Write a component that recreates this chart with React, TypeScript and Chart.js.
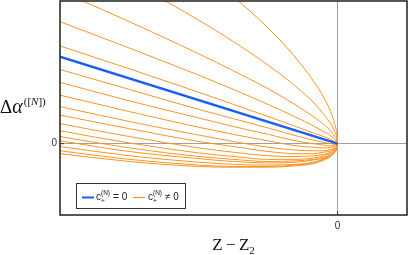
import React, { useEffect, useRef } from 'react';
import { Chart, registerables } from 'chart.js';
Chart.register(...registerables);

// x positions (Z - Z2) shared by all orange curves
const xs = [-4, -3, -2, -1.5, -1, -0.6, -0.35, -0.2, -0.1, -0.04, -0.01, 0];

// blue curve: c+ = 0 (straight line)
const blueX = [-4, 0];
const blueY = [1.22, 0];

// orange curves: c+ != 0
const curveUp1 = [3.84, 3.18, 2.46, 2.06, 1.62, 1.2, 0.88, 0.65, 0.45, 0.27, 0.13, 0];
const curveUp2 = [2.8, 2.28, 1.73, 1.43, 1.1, 0.8, 0.58, 0.41, 0.28, 0.17, 0.08, 0];
const curveUp3 = [2.14, 1.71, 1.26, 1.02, 0.77, 0.54, 0.38, 0.27, 0.18, 0.1, 0.05, 0];
const curveUp4 = [1.71, 1.34, 0.96, 0.76, 0.55, 0.37, 0.25, 0.17, 0.11, 0.06, 0.03, 0];
const curveUp5 = [1.37, 1.05, 0.72, 0.55, 0.38, 0.24, 0.15, 0.1, 0.06, 0.03, 0.01, 0];
const curveDn1 = [1.04, 0.76, 0.48, 0.35, 0.22, 0.11, 0.05, 0.02, 0.0, -0.01, -0.01, 0];
const curveDn2 = [0.86, 0.6, 0.36, 0.24, 0.13, 0.04, 0.0, -0.02, -0.03, -0.02, -0.02, 0];
const curveDn3 = [0.68, 0.45, 0.23, 0.13, 0.04, -0.03, -0.05, -0.06, -0.05, -0.04, -0.02, 0];
const curveDn4 = [0.52, 0.31, 0.12, 0.03, -0.05, -0.09, -0.1, -0.1, -0.08, -0.06, -0.03, 0];
const curveDn5 = [0.4, 0.21, 0.03, -0.04, -0.11, -0.14, -0.14, -0.12, -0.1, -0.07, -0.04, 0];
const curveDn6 = [0.28, 0.1, -0.06, -0.12, -0.17, -0.18, -0.17, -0.15, -0.12, -0.08, -0.04, 0];
const curveDn7 = [0.18, 0.01, -0.13, -0.18, -0.22, -0.22, -0.2, -0.17, -0.13, -0.09, -0.05, 0];
const curveDn8 = [0.1, -0.06, -0.18, -0.22, -0.25, -0.24, -0.22, -0.19, -0.15, -0.1, -0.05, 0];
const curveDn9 = [0.04, -0.11, -0.21, -0.25, -0.27, -0.26, -0.23, -0.2, -0.16, -0.11, -0.06, 0];
const curveDn10 = [-0.04, -0.17, -0.26, -0.29, -0.3, -0.29, -0.26, -0.21, -0.17, -0.11, -0.06, 0];
const curveDn11 = [-0.1, -0.22, -0.3, -0.32, -0.32, -0.3, -0.27, -0.22, -0.17, -0.12, -0.06, 0];
const curveDn12 = [-0.14, -0.25, -0.32, -0.33, -0.33, -0.31, -0.28, -0.23, -0.18, -0.12, -0.07, 0];

const orangeCurves = [
  curveUp1, curveUp2, curveUp3, curveUp4, curveUp5,
  curveDn1, curveDn2, curveDn3, curveDn4, curveDn5, curveDn6,
  curveDn7, curveDn8, curveDn9, curveDn10, curveDn11, curveDn12,
];

const xTicks = [0];
const yTicks = [0];

const BLUE = 'rgb(28, 92, 246)';
const ORANGE = 'rgb(252, 148, 36)';

const overlayPlugin = {
  id: 'overlay',
  afterDraw(chart: any) {
    const ctx = chart.ctx as CanvasRenderingContext2D;
    const ca = chart.chartArea;
    const xs0 = chart.scales.x.getPixelForValue(0);
    const ys0 = chart.scales.y.getPixelForValue(0);
    ctx.save();
    // frame
    ctx.strokeStyle = '#1e1e1e';
    ctx.lineWidth = 1.5;
    ctx.strokeRect(ca.left, ca.top, ca.right - ca.left, ca.bottom - ca.top);
    // small ticks at zero
    ctx.lineWidth = 1;
    ctx.strokeStyle = '#333';
    ctx.beginPath();
    ctx.moveTo(xs0, ca.bottom);
    ctx.lineTo(xs0, ca.bottom - 4);
    ctx.moveTo(ca.left, ys0);
    ctx.lineTo(ca.left + 4, ys0);
    ctx.stroke();

    // legend
    const lx = 76.5, ly = 183.5, lw = 109, lh = 25;
    ctx.fillStyle = '#fff';
    ctx.fillRect(lx, ly, lw, lh);
    ctx.strokeStyle = '#333';
    ctx.lineWidth = 1;
    ctx.strokeRect(lx, ly, lw, lh);

    const drawLabel = (x: number, base: number, rest: string) => {
      ctx.fillStyle = '#222';
      ctx.textBaseline = 'alphabetic';
      ctx.textAlign = 'left';
      ctx.font = '10px "Liberation Sans"';
      ctx.fillText('c', x, base);
      const w = ctx.measureText('c').width;
      ctx.font = '6.5px "Liberation Sans"';
      ctx.fillText('+', x + w, base + 2.5);
      ctx.fillText('(N)', x + w, base - 5);
      const w2 = Math.max(ctx.measureText('+').width, ctx.measureText('(N)').width);
      ctx.font = '10px "Liberation Sans"';
      ctx.fillText(rest, x + w + w2 + 3, base);
    };
    ctx.strokeStyle = BLUE;
    ctx.lineWidth = 2;
    ctx.beginPath();
    ctx.moveTo(82, 197.5);
    ctx.lineTo(94, 197.5);
    ctx.stroke();
    drawLabel(96, 200, '= 0');
    ctx.strokeStyle = ORANGE;
    ctx.lineWidth = 1.2;
    ctx.beginPath();
    ctx.moveTo(133, 197.5);
    ctx.lineTo(145, 197.5);
    ctx.stroke();
    drawLabel(148, 200, '\u2260 0');

    // y title: Δα^([N])
    ctx.fillStyle = '#111';
    ctx.textAlign = 'left';
    let x = 0;
    const yb = 113;
    ctx.font = '19px "Liberation Serif"';
    ctx.fillText('\u0394', x, yb);
    x += ctx.measureText('\u0394').width;
    ctx.font = 'italic 20px "Liberation Serif"';
    ctx.fillText('\u03b1', x, yb);
    x += ctx.measureText('\u03b1').width + 1;
    const sb = yb - 8;
    ctx.font = '11px "Liberation Serif"';
    ctx.fillText('([', x, sb);
    x += ctx.measureText('([').width;
    ctx.font = 'italic 11px "Liberation Serif"';
    ctx.fillText('N', x, sb);
    x += ctx.measureText('N').width;
    ctx.font = '11px "Liberation Serif"';
    ctx.fillText('])', x, sb);

    // x title: Z−Z₂
    ctx.font = '17px "Liberation Serif"';
    const main = 'Z\u2009\u2212\u2009Z';
    const mw = ctx.measureText(main).width;
    ctx.font = '11px "Liberation Serif"';
    const subw = ctx.measureText('2').width;
    const cx = (ca.left + ca.right) / 2;
    const sx = cx - (mw + subw) / 2;
    ctx.font = '17px "Liberation Serif"';
    ctx.fillText(main, sx, 250);
    ctx.font = '11px "Liberation Serif"';
    ctx.fillText('2', sx + mw, 254);
    ctx.restore();
  },
};

export default function App() {
  const ref = useRef<HTMLCanvasElement>(null);
  useEffect(() => {
    document.body.style.margin = '0';
    const datasets: any[] = [
      {
        label: 'c+ = 0',
        data: blueX.map((x, i) => ({ x, y: blueY[i] })),
        borderColor: BLUE,
        borderWidth: 2.5,
        pointRadius: 0,
        order: 0,
      },
      ...orangeCurves.map((ys, k) => ({
        label: 'c+ != 0 #' + k,
        data: xs.map((x, i) => ({ x, y: ys[i] })),
        borderColor: ORANGE,
        borderWidth: 1,
        pointRadius: 0,
        cubicInterpolationMode: 'monotone',
        order: 1,
      })),
    ];
    const tickFont = { family: '"Liberation Sans"', size: 10 };
    const chart = new Chart(ref.current as HTMLCanvasElement, {
      type: 'line',
      data: { datasets },
      options: {
        animation: false,
        responsive: false,
        maintainAspectRatio: false,
        layout: { padding: { top: 1, right: 2, left: 0, bottom: 0 } },
        plugins: { legend: { display: false }, tooltip: { enabled: false } },
        scales: {
          x: {
            type: 'linear',
            min: -4,
            max: 1,
            afterBuildTicks: (s: any) => { s.ticks = xTicks.map((v) => ({ value: v })); },
            afterFit: (s: any) => { s.height = 40; s.paddingLeft = 0; s.paddingRight = 0; },
            grid: { color: '#a0a0a0', lineWidth: 1, drawTicks: false },
            border: { display: false },
            ticks: { padding: 5, color: '#333', font: tickFont, callback: (v: any) => String(v) },
          },
          y: {
            type: 'linear',
            min: -1,
            max: 2,
            afterBuildTicks: (s: any) => { s.ticks = yTicks.map((v) => ({ value: v })); },
            afterFit: (s: any) => { s.width = 60; s.paddingTop = 0; s.paddingBottom = 0; },
            grid: { color: '#a0a0a0', lineWidth: 1, drawTicks: false },
            border: { display: false },
            ticks: { padding: 3, color: '#333', font: tickFont, callback: (v: any) => String(v) },
          },
        },
      } as any,
      plugins: [overlayPlugin],
    });
    return () => chart.destroy();
  }, []);
  return (
    <div style={{ width: 409, height: 255 }}>
      <canvas ref={ref} width={409} height={255} style={{ display: 'block' }} />
    </div>
  );
}
